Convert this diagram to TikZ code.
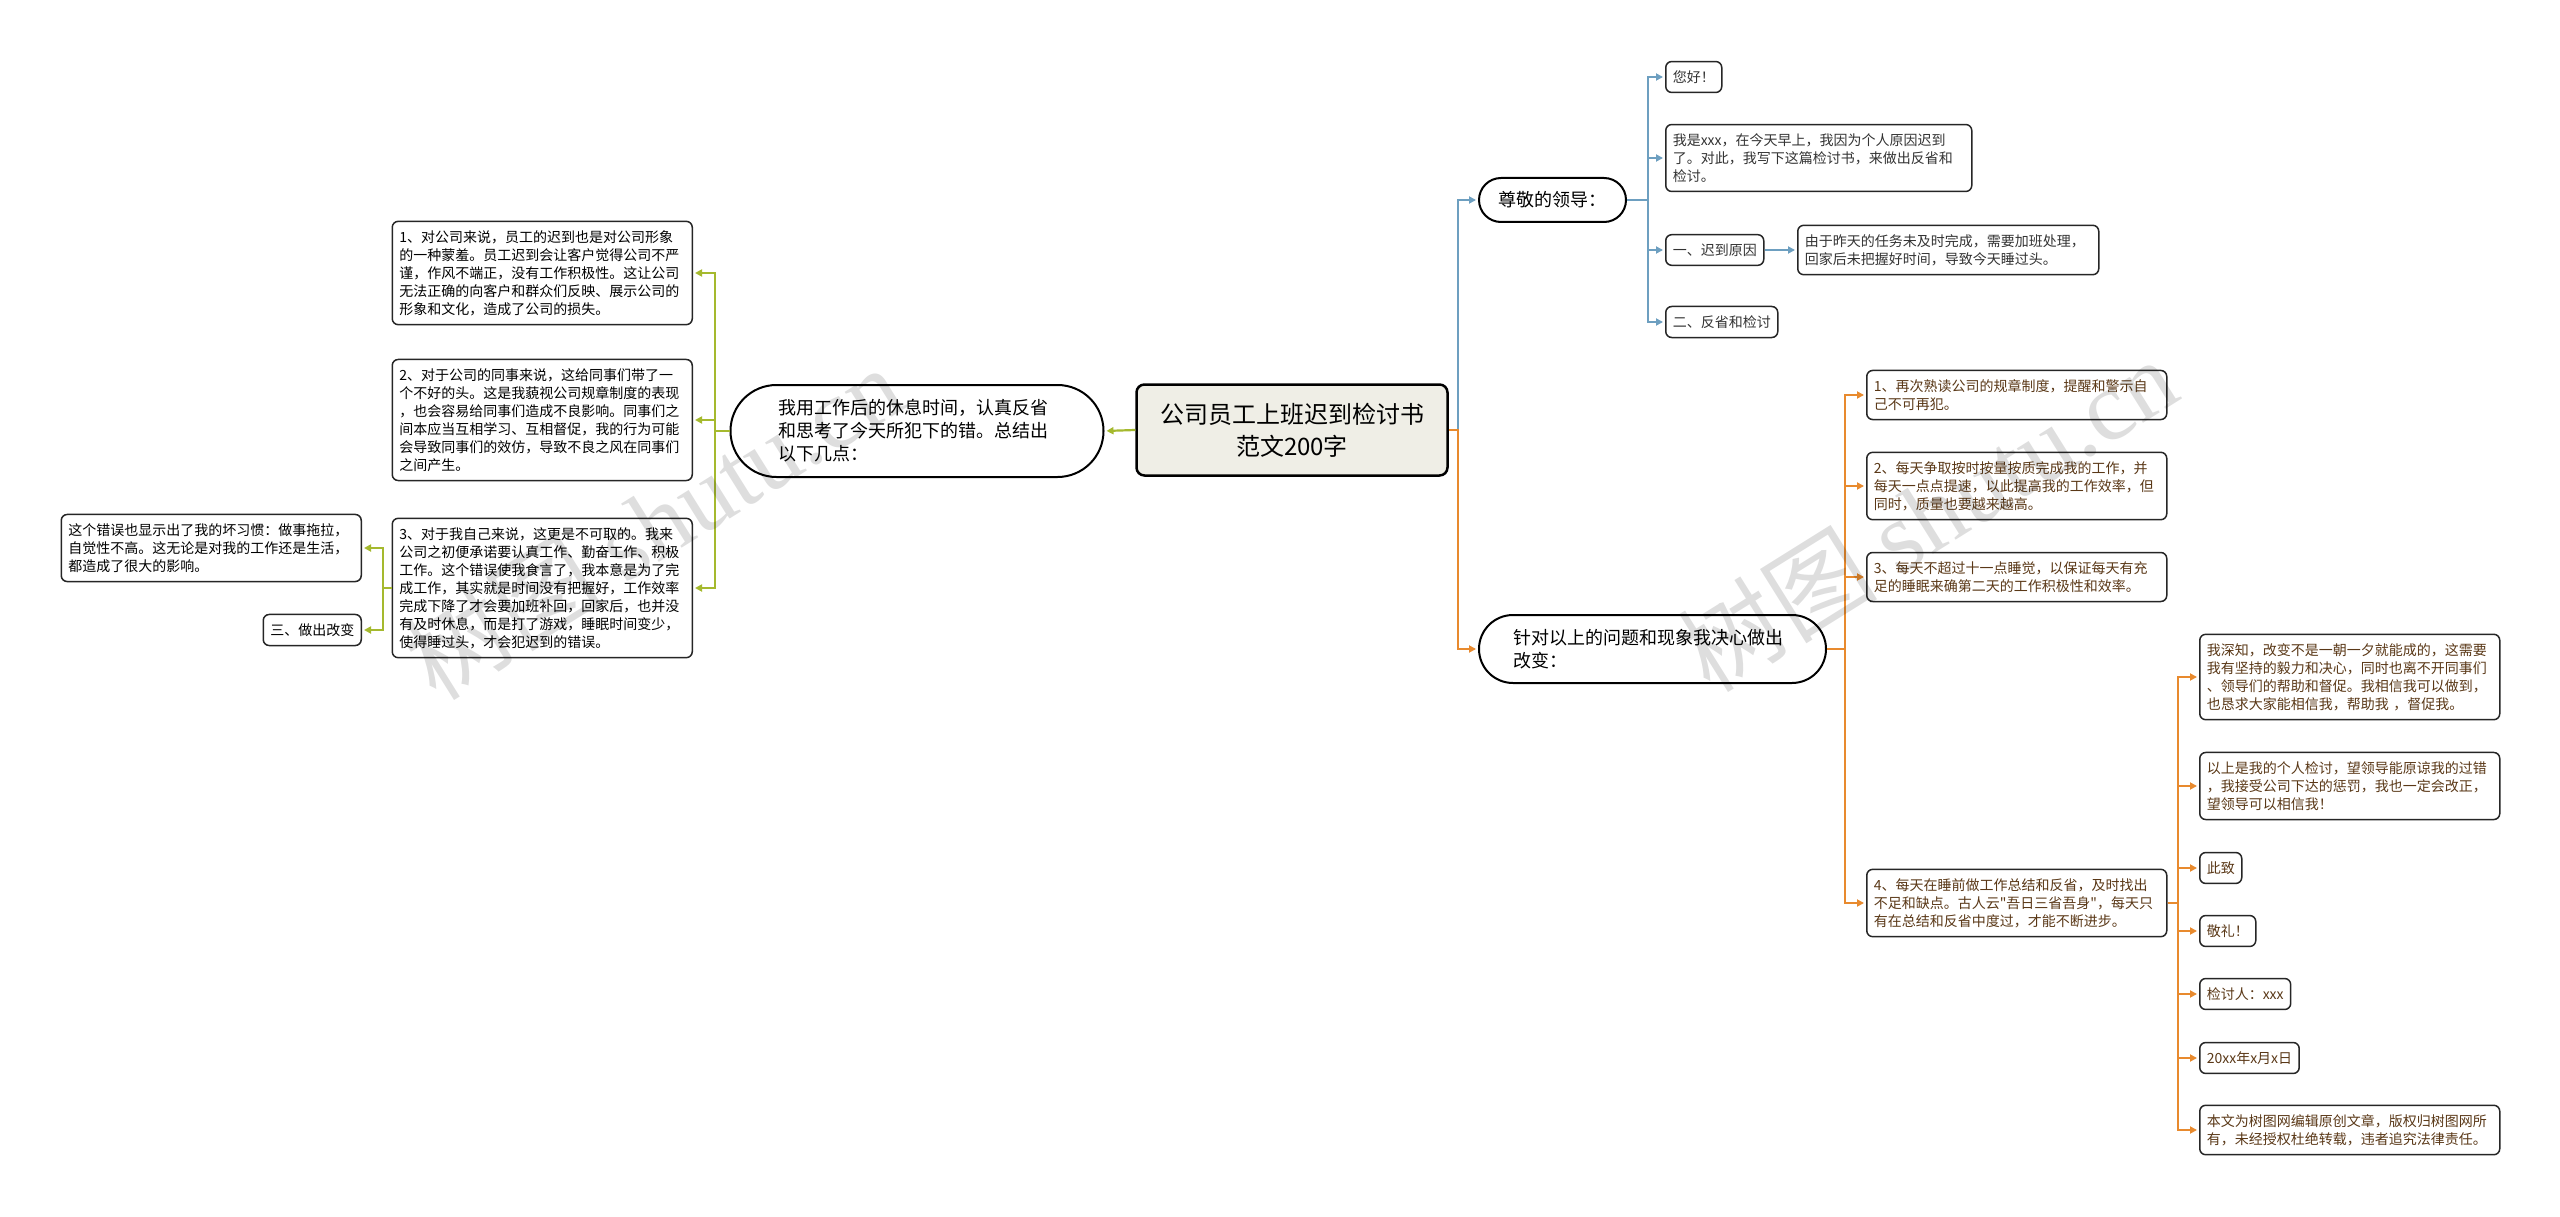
\documentclass[tikz,border=0pt]{standalone}
\usepackage{fontspec}
\setmainfont{Noto Sans CJK SC}[Ligatures=TeXOff]
\newfontfamily\wmfont{Liberation Serif}
\usetikzlibrary{arrows.meta,shapes.misc}

\definecolor{linegreen}{HTML}{A5B92E}
\definecolor{lineblue}{HTML}{6D9FC0}
\definecolor{lineorange}{HTML}{E88A2E}
\definecolor{rootfill}{HTML}{EFEEE6}
\definecolor{textbrown}{HTML}{5A3817}

\tikzset{
  box/.style={draw=black!85, line width=1.5pt, rounded corners=6pt, fill=white,
    align=left, inner xsep=7pt, inner ysep=9pt, font=\fontsize{14}{18}\selectfont},
  root/.style={draw=black, line width=2.5pt, rounded corners=8pt, fill=rootfill,
    align=center, minimum width=311pt, minimum height=91pt, font=\fontsize{24}{32}\selectfont},
  topic/.style={rounded rectangle, draw=black, line width=2pt, fill=white,
    align=left, inner xsep=4pt, font=\fontsize{18}{23}\selectfont},
  link/.style={line width=2.2pt, shorten >=2pt, -{Triangle[length=7pt,width=7pt]}},
  glink/.style={link, draw=linegreen},
  blink/.style={link, draw=lineblue},
  olink/.style={link, draw=lineorange},
  wm/.style={text=black, opacity=0.13, font=\fontsize{100}{100}\selectfont}
}

\begin{document}
\begin{tikzpicture}[x=1pt,y=-1pt]
  \useasboundingbox[fill=white] (0,0) rectangle (2560,1217);

  \coordinate (jl) at (715,431);
  \coordinate (jl3) at (383,588);
  \coordinate (jr) at (1458,430);
  \coordinate (jb) at (1648,200);
  \coordinate (jo) at (1845,649);
  \coordinate (jo4) at (2178,903);

  \node[root] (root) at (1292,430) {公司员工上班迟到检讨书\\范文200字};

  \node[topic, minimum width=381pt, minimum height=92pt, text width=278pt] (rest) at (917,431)
    {我用工作后的休息时间，认真反省\\和思考了今天所犯下的错。总结出\\以下几点：};

  \node[box, text width=286pt, anchor=east] (ca) at (693,273)
    {1、对公司来说，员工的迟到也是对公司形象\\的一种蒙羞。员工迟到会让客户觉得公司不严\\谨，作风不端正，没有工作积极性。这让公司\\无法正确的向客户和群众们反映、展示公司的\\形象和文化，造成了公司的损失。};
  \node[box, text width=286pt, anchor=east] (cb) at (693,420)
    {2、对于公司的同事来说，这给同事们带了一\\个不好的头。这是我藐视公司规章制度的表现\\，也会容易给同事们造成不良影响。同事们之\\间本应当互相学习、互相督促，我的行为可能\\会导致同事们的效仿，导致不良之风在同事们\\之间产生。};
  \node[box, text width=286pt, anchor=east] (cc) at (693,588)
    {3、对于我自己来说，这更是不可取的。我来\\公司之初便承诺要认真工作、勤奋工作、积极\\工作。这个错误使我食言了，我本意是为了完\\成工作，其实就是时间没有把握好，工作效率\\完成下降了才会要加班补回，回家后，也并没\\有及时休息，而是打了游戏，睡眠时间变少，\\使得睡过头，才会犯迟到的错误。};

  \node[box, text width=286pt, anchor=east] (habit) at (362,548)
    {这个错误也显示出了我的坏习惯：做事拖拉，\\自觉性不高。这无论是对我的工作还是生活，\\都造成了很大的影响。};
  \node[box, anchor=east] (change) at (362,630) {三、做出改变};

  \node[topic, minimum width=155pt, minimum height=44pt, anchor=west] (lead) at (1478,200) {尊敬的领导：};

  \node[box, text=black!80, anchor=west] (hello) at (1665,77) {您好！};
  \node[box, text=black!80, text width=292pt, anchor=west] (intro) at (1665,158)
    {我是xxx，在今天早上，我因为个人原因迟到\\了。对此，我写下这篇检讨书，来做出反省和\\检讨。};
  \node[box, text=black!80, anchor=west] (cause) at (1665,250) {一、迟到原因};
  \node[box, text=black!80, text width=287pt, anchor=west] (causetext) at (1797,250)
    {由于昨天的任务未及时完成，需要加班处理，\\回家后未把握好时间，导致今天睡过头。};
  \node[box, text=black!80, anchor=west] (reflect) at (1665,322) {二、反省和检讨};

  \node[topic, minimum width=355pt, minimum height=68pt, text width=278pt, anchor=west] (resolve) at (1478,649)
    {针对以上的问题和现象我决心做出\\改变：};

  \node[box, text=textbrown, text width=286pt, anchor=west] (ra) at (1866,395)
    {1、再次熟读公司的规章制度，提醒和警示自\\己不可再犯。};
  \node[box, text=textbrown, text width=286pt, anchor=west] (rb) at (1866,486)
    {2、每天争取按时按量按质完成我的工作，并\\每天一点点提速，以此提高我的工作效率，但\\同时，质量也要越来越高。};
  \node[box, text=textbrown, text width=286pt, anchor=west] (rc) at (1866,577)
    {3、每天不超过十一点睡觉，以保证每天有充\\足的睡眠来确第二天的工作积极性和效率。};
  \node[box, text=textbrown, text width=286pt, anchor=west] (rd) at (1866,903)
    {4、每天在睡前做工作总结和反省，及时找出\\不足和缺点。古人云"吾日三省吾身"，每天只\\有在总结和反省中度过，才能不断进步。};

  \node[box, text=textbrown, text width=286pt, anchor=west] (resolve4a) at (2199,677)
    {我深知，改变不是一朝一夕就能成的，这需要\\我有坚持的毅力和决心，同时也离不开同事们\\、领导们的帮助和督促。我相信我可以做到，\\也恳求大家能相信我，帮助我 ，督促我。};
  \node[box, text=textbrown, text width=286pt, anchor=west] (resolve4b) at (2199,786)
    {以上是我的个人检讨，望领导能原谅我的过错\\，我接受公司下达的惩罚，我也一定会改正，\\望领导可以相信我！};
  \node[box, text=textbrown, anchor=west] (cizhi) at (2199,868) {此致};
  \node[box, text=textbrown, anchor=west] (jingli) at (2199,931) {敬礼！};
  \node[box, text=textbrown, anchor=west] (signer) at (2199,994) {检讨人：xxx};
  \node[box, text=textbrown, anchor=west] (date) at (2199,1058) {20xx年x月x日};
  \node[box, text=textbrown, text width=286pt, anchor=west] (note) at (2199,1130)
    {本文为树图网编辑原创文章，版权归树图网所\\有，未经授权杜绝转载，违者追究法律责任。};

  \draw[glink] (root.west) -- (rest.east);
  \foreach \n in {ca,cb,cc}
    \draw[glink] (rest.west) -- (jl) |- (\n.east);
  \foreach \n in {habit,change}
    \draw[glink] (cc.west) -- (jl3) |- (\n.east);

  \draw[blink] (root.east) -- (jr) |- (lead.west);
  \draw[olink] (root.east) -- (jr) |- (resolve.west);

  \foreach \n in {hello,intro,cause,reflect}
    \draw[blink] (lead.east) -- (jb) |- (\n.west);
  \draw[blink] (cause.east) -- (causetext.west);

  \foreach \n in {ra,rb,rc,rd}
    \draw[olink] (resolve.east) -- (jo) |- (\n.west);
  \foreach \n in {resolve4a,resolve4b,cizhi,jingli,signer,date,note}
    \draw[olink] (rd.east) -- (jo4) |- (\n.west);

  \node[wm, rotate=32] (wmleft) at (653,522) {树图 {\wmfont shutu.cn}};
  \node[wm, rotate=32] (wmright) at (1927,514) {树图 {\wmfont shutu.cn}};
\end{tikzpicture}
\end{document}
